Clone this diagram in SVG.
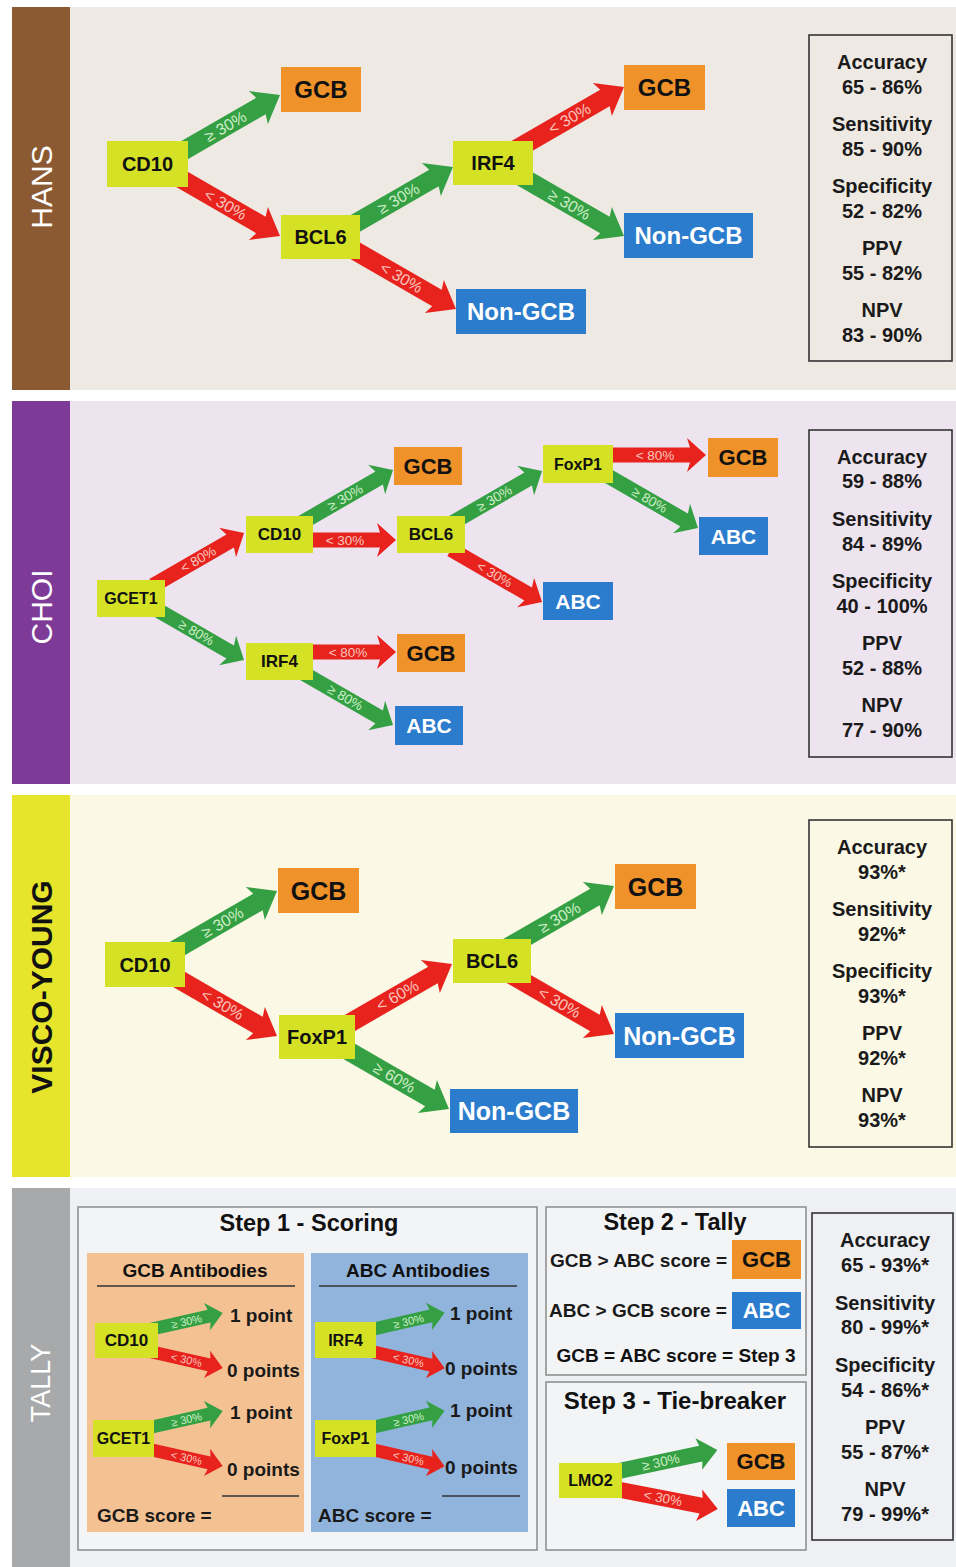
<svg xmlns="http://www.w3.org/2000/svg" width="956" height="1567" viewBox="0 0 956 1567">
<style>
text{font-family:"Liberation Sans",Arial,sans-serif;}
.n{fill:#d5e125;}
.o{fill:#f0922a;}
.b{fill:#2b7ccc;}
.t{font-weight:bold;fill:#111;text-anchor:middle;dominant-baseline:central;}
.tw{font-weight:bold;fill:#fff;text-anchor:middle;dominant-baseline:central;}
.side{font-size:30px;fill:#fff;text-anchor:middle;dominant-baseline:central;}
.st{font-size:20px;font-weight:bold;fill:#1a1a1a;text-anchor:middle;dominant-baseline:central;}
.sbox{fill:none;stroke:#333;stroke-width:1.6;}
.ag{fill:#34a043;}
.ar{fill:#e8231e;}
.lg{fill:#cfeec8;text-anchor:middle;dominant-baseline:central;}
.lr{fill:#f9c6bd;text-anchor:middle;dominant-baseline:central;}
.l1{font-size:16px;}
.l2{font-size:13.5px;}
.l3{font-size:11px;}
.tx{font-weight:bold;fill:#1a1a1a;dominant-baseline:central;}
.step{fill:#f3f4f6;stroke:#8a8a8a;stroke-width:1.5;}
.rule{stroke:#333;stroke-width:1.6;}
</style>
<defs>
<polygon id="aL" points="0,-9.5 103,-9.5 100,-19 125,0 100,19 103,9.5 0,9.5"/>
<polygon id="aM" points="0,-7.5 89,-7.5 86,-17 105,0 86,17 89,7.5 0,7.5"/>
<polygon id="aM112" points="0,-7.5 96,-7.5 93,-17 112,0 93,17 96,7.5 0,7.5"/>
<polygon id="aH96" points="0,-7.5 80,-7.5 77,-17 96,0 77,17 80,7.5 0,7.5"/>
<polygon id="aH106" points="0,-7.5 90,-7.5 87,-17 106,0 87,17 90,7.5 0,7.5"/>
<polygon id="aS" points="0,-6.5 81,-6.5 79,-14 95,0 79,14 81,6.5 0,6.5"/>
<polygon id="aLM" points="0,-8 103,-8 101,-16 120,0 101,16 103,8 0,8"/>
</defs>

<rect x="0" y="0" width="956" height="1567" fill="#ffffff"/>

<!-- panels -->
<g id="panel-hans">
<rect x="70" y="7" width="886" height="383" fill="#efe9e3"/>
<rect x="12" y="7" width="58" height="383" fill="#8b5a32"/>
<text class="side" transform="translate(41,187) rotate(-90)">HANS</text>
</g>
<g id="panel-choi">
<rect x="70" y="401" width="886" height="383" fill="#ede4ef"/>
<rect x="12" y="401" width="58" height="383" fill="#7d3a97"/>
<text class="side" transform="translate(41,607) rotate(-90)">CHOI</text>
</g>
<g id="panel-visco">
<rect x="70" y="795" width="886" height="382" fill="#fbf8e5"/>
<rect x="12" y="795" width="58" height="382" fill="#e6e52c"/>
<text class="side" style="fill:#111;font-weight:bold;font-size:30px" transform="translate(41,987) rotate(-90)">VISCO-YOUNG</text>
</g>
<g id="panel-tally">
<rect x="70" y="1188" width="886" height="379" fill="#eef0f3"/>
<rect x="12" y="1188" width="58" height="379" fill="#a7a9ab"/>
<text class="side" style="font-size:27px" transform="translate(41,1383) rotate(-90)">TALLY</text>
</g>

<!-- TALLY containers -->
<g id="tally-step1">
<rect x="78" y="1207" width="459" height="343" class="step"/>
<text x="309" y="1223" class="t" font-size="23.5">Step 1 - Scoring</text>
<rect x="87" y="1253" width="217" height="279" fill="#f4c292"/>
<rect x="311" y="1253" width="217" height="279" fill="#91b4dd"/>
<text x="195" y="1270" class="t" font-size="19">GCB Antibodies</text>
<line x1="97" y1="1286" x2="295" y2="1286" class="rule"/>
<text x="418" y="1270" class="t" font-size="19">ABC Antibodies</text>
<line x1="319" y1="1286" x2="517" y2="1286" class="rule"/>
<text x="230" y="1315" class="tx" font-size="19">1 point</text>
<text x="227" y="1370" class="tx" font-size="19">0 points</text>
<text x="230" y="1412" class="tx" font-size="19">1 point</text>
<text x="227" y="1469" class="tx" font-size="19">0 points</text>
<text x="450" y="1313" class="tx" font-size="19">1 point</text>
<text x="445" y="1368" class="tx" font-size="19">0 points</text>
<text x="450" y="1410" class="tx" font-size="19">1 point</text>
<text x="445" y="1467" class="tx" font-size="19">0 points</text>
<line x1="222" y1="1496" x2="299" y2="1496" class="rule"/>
<line x1="442" y1="1496" x2="520" y2="1496" class="rule"/>
<text x="97" y="1515" class="tx" font-size="19">GCB score =</text>
<text x="318" y="1515" class="tx" font-size="19">ABC score =</text>
</g>
<g id="tally-step2">
<rect x="546" y="1207" width="260" height="168" class="step"/>
<text x="675" y="1222" class="t" font-size="23.5">Step 2 - Tally</text>
<text x="550" y="1260" class="tx" font-size="19" textLength="177" lengthAdjust="spacingAndGlyphs">GCB &gt; ABC score =</text>
<text x="549" y="1310" class="tx" font-size="19" textLength="178" lengthAdjust="spacingAndGlyphs">ABC &gt; GCB score =</text>
<text x="676" y="1355" class="t" font-size="19">GCB = ABC score = Step 3</text>
</g>
<g id="tally-step3">
<rect x="546" y="1382" width="260" height="168" class="step"/>
<text x="675" y="1400" class="t" font-size="24">Step 3 - Tie-breaker</text>
</g>

<!-- connectors -->
<g id="connectors">
<!-- HANS -->
<g transform="translate(171.75,157.5) rotate(-30)"><use href="#aL" class="ag"/><text x="62" y="0" class="lg l1">≥ 30%</text></g>
<g transform="translate(171.75,173.5) rotate(30)"><use href="#aL" class="ar"/><text x="62" y="0" class="lr l1">&lt; 30%</text></g>
<g transform="translate(344.75,229.5) rotate(-30)"><use href="#aL" class="ag"/><text x="62" y="0" class="lg l1">≥ 30%</text></g>
<g transform="translate(347.75,246.5) rotate(30)"><use href="#aL" class="ar"/><text x="62" y="0" class="lr l1">&lt; 30%</text></g>
<g transform="translate(515.75,149.5) rotate(-30)"><use href="#aL" class="ar"/><text x="62" y="0" class="lr l1">&lt; 30%</text></g>
<g transform="translate(515.75,173.5) rotate(30)"><use href="#aL" class="ag"/><text x="62" y="0" class="lg l1">≥ 30%</text></g>
<!-- CHOI -->
<g transform="translate(153.1,585.5) rotate(-30)"><use href="#aM" class="ar"/><text x="52" y="0" class="lr l2">&lt; 80%</text></g>
<g transform="translate(153.1,607.5) rotate(30)"><use href="#aM" class="ag"/><text x="50" y="0" class="lg l2">≥ 80%</text></g>
<g transform="translate(302.1,522.5) rotate(-30)"><use href="#aM" class="ag"/><text x="50" y="0" class="lg l2">≥ 30%</text></g>
<g transform="translate(300,540)"><use href="#aH96" class="ar"/><text x="45" y="0" class="lr l2">&lt; 30%</text></g>
<g transform="translate(300,652)"><use href="#aH96" class="ar"/><text x="48" y="0" class="lr l2">&lt; 80%</text></g>
<g transform="translate(302.1,672.5) rotate(30)"><use href="#aM" class="ag"/><text x="50" y="0" class="lg l2">≥ 80%</text></g>
<g transform="translate(451.1,523.5) rotate(-30)"><use href="#aM" class="ag"/><text x="50" y="0" class="lg l2">≥ 30%</text></g>
<g transform="translate(451.1,549.5) rotate(30)"><use href="#aM" class="ar"/><text x="50" y="0" class="lr l2">&lt; 30%</text></g>
<g transform="translate(600,455)"><use href="#aH106" class="ar"/><text x="55" y="0" class="lr l2">&lt; 80%</text></g>
<g transform="translate(601,472) rotate(30)"><use href="#aM112" class="ag"/><text x="56" y="0" class="lg l2">≥ 80%</text></g>
<!-- VISCO -->
<g transform="translate(168.75,953.5) rotate(-30)"><use href="#aL" class="ag"/><text x="62" y="0" class="lg l1">≥ 30%</text></g>
<g transform="translate(168.75,973.5) rotate(30)"><use href="#aL" class="ar"/><text x="62" y="0" class="lr l1">&lt; 30%</text></g>
<g transform="translate(343.75,1026.5) rotate(-30)"><use href="#aL" class="ar"/><text x="62" y="0" class="lr l1">&lt; 60%</text></g>
<g transform="translate(340.75,1046.5) rotate(30)"><use href="#aL" class="ag"/><text x="62" y="0" class="lg l1">≥ 60%</text></g>
<g transform="translate(505.75,948.5) rotate(-30)"><use href="#aL" class="ag"/><text x="62" y="0" class="lg l1">≥ 30%</text></g>
<g transform="translate(505.75,971.5) rotate(30)"><use href="#aL" class="ar"/><text x="62" y="0" class="lr l1">&lt; 30%</text></g>
<!-- TALLY step 1 -->
<g transform="translate(130,1334) rotate(-12.7)"><use href="#aS" class="ag"/><text x="58" y="0" class="lg l3">≥ 30%</text></g>
<g transform="translate(130,1347) rotate(12.7)"><use href="#aS" class="ar"/><text x="58" y="0" class="lr l3">&lt; 30%</text></g>
<g transform="translate(130,1432) rotate(-12.7)"><use href="#aS" class="ag"/><text x="58" y="0" class="lg l3">≥ 30%</text></g>
<g transform="translate(130,1445) rotate(12.7)"><use href="#aS" class="ar"/><text x="58" y="0" class="lr l3">&lt; 30%</text></g>
<g transform="translate(352,1334) rotate(-12.9)"><use href="#aS" class="ag"/><text x="58" y="0" class="lg l3">≥ 30%</text></g>
<g transform="translate(352,1347) rotate(12.9)"><use href="#aS" class="ar"/><text x="58" y="0" class="lr l3">&lt; 30%</text></g>
<g transform="translate(352,1432) rotate(-12.9)"><use href="#aS" class="ag"/><text x="58" y="0" class="lg l3">≥ 30%</text></g>
<g transform="translate(352,1445) rotate(12.9)"><use href="#aS" class="ar"/><text x="58" y="0" class="lr l3">&lt; 30%</text></g>
<!-- TALLY step 3 -->
<g transform="translate(600,1475) rotate(-12)"><use href="#aLM" class="ag"/><text x="62" y="0" class="lg l2">≥ 30%</text></g>
<g transform="translate(600,1486) rotate(11)"><use href="#aLM" class="ar"/><text x="64" y="0" class="lr l2">&lt; 30%</text></g>
</g>

<!-- HANS nodes -->
<g id="hans-cd10"><rect x="107" y="141" width="81" height="46" class="n"/><text x="147.5" y="164" class="t" font-size="20">CD10</text></g>
<g id="hans-gcb1"><rect x="281" y="67" width="80" height="45" class="o"/><text x="321" y="89.5" class="t" font-size="24">GCB</text></g>
<g id="hans-bcl6"><rect x="281" y="215" width="79" height="44" class="n"/><text x="320.5" y="237" class="t" font-size="20">BCL6</text></g>
<g id="hans-irf4"><rect x="453" y="141" width="80" height="44" class="n"/><text x="493" y="163" class="t" font-size="20">IRF4</text></g>
<g id="hans-gcb2"><rect x="624" y="65" width="81" height="45" class="o"/><text x="664.5" y="87.5" class="t" font-size="24">GCB</text></g>
<g id="hans-nongcb1"><rect x="624" y="213" width="129" height="45" class="b"/><text x="688.5" y="235.5" class="tw" font-size="24">Non-GCB</text></g>
<g id="hans-nongcb2"><rect x="456" y="289" width="130" height="45" class="b"/><text x="521" y="311.5" class="tw" font-size="24">Non-GCB</text></g>
<g id="hans-stats"><rect x="809" y="35" width="143" height="326" class="sbox"/>
<text x="882" y="62" class="st">Accuracy</text><text x="882" y="87" class="st">65 - 86%</text>
<text x="882" y="124" class="st">Sensitivity</text><text x="882" y="149" class="st">85 - 90%</text>
<text x="882" y="186" class="st">Specificity</text><text x="882" y="211" class="st">52 - 82%</text>
<text x="882" y="248" class="st">PPV</text><text x="882" y="273" class="st">55 - 82%</text>
<text x="882" y="310" class="st">NPV</text><text x="882" y="335" class="st">83 - 90%</text></g>

<!-- CHOI nodes -->
<g id="choi-gcet1"><rect x="97" y="580" width="68" height="37" class="n"/><text x="131" y="598.5" class="t" font-size="16">GCET1</text></g>
<g id="choi-cd10"><rect x="246" y="516" width="67" height="37" class="n"/><text x="279.5" y="534.5" class="t" font-size="17">CD10</text></g>
<g id="choi-irf4"><rect x="246" y="643" width="67" height="37" class="n"/><text x="279.5" y="661.5" class="t" font-size="17">IRF4</text></g>
<g id="choi-gcb1"><rect x="394" y="447" width="68" height="38" class="o"/><text x="428" y="466" class="t" font-size="22">GCB</text></g>
<g id="choi-bcl6"><rect x="397" y="516" width="68" height="37" class="n"/><text x="431" y="534.5" class="t" font-size="17">BCL6</text></g>
<g id="choi-gcb2"><rect x="397" y="634" width="68" height="38" class="o"/><text x="431" y="653" class="t" font-size="22">GCB</text></g>
<g id="choi-abc1"><rect x="395" y="706" width="68" height="39" class="b"/><text x="429" y="725.5" class="tw" font-size="21">ABC</text></g>
<g id="choi-foxp1"><rect x="543" y="445" width="70" height="38" class="n"/><text x="578" y="464" class="t" font-size="16">FoxP1</text></g>
<g id="choi-gcb3"><rect x="708" y="438" width="70" height="39" class="o"/><text x="743" y="457.5" class="t" font-size="22">GCB</text></g>
<g id="choi-abc2"><rect x="699" y="517" width="69" height="38" class="b"/><text x="733.5" y="536" class="tw" font-size="21">ABC</text></g>
<g id="choi-abc3"><rect x="543" y="582" width="70" height="38" class="b"/><text x="578" y="601" class="tw" font-size="21">ABC</text></g>
<g id="choi-stats"><rect x="809" y="430" width="143" height="327" class="sbox"/>
<text x="882" y="457" class="st">Accuracy</text><text x="882" y="481" class="st">59 - 88%</text>
<text x="882" y="519" class="st">Sensitivity</text><text x="882" y="544" class="st">84 - 89%</text>
<text x="882" y="581" class="st">Specificity</text><text x="882" y="606" class="st">40 - 100%</text>
<text x="882" y="643" class="st">PPV</text><text x="882" y="668" class="st">52 - 88%</text>
<text x="882" y="705" class="st">NPV</text><text x="882" y="730" class="st">77 - 90%</text></g>

<!-- VISCO nodes -->
<g id="visco-cd10"><rect x="105" y="942" width="80" height="45" class="n"/><text x="145" y="964.5" class="t" font-size="20">CD10</text></g>
<g id="visco-gcb1"><rect x="278" y="868" width="81" height="45" class="o"/><text x="318.5" y="890.5" class="t" font-size="25">GCB</text></g>
<g id="visco-foxp1"><rect x="279" y="1015" width="76" height="44" class="n"/><text x="317" y="1037" class="t" font-size="20">FoxP1</text></g>
<g id="visco-bcl6"><rect x="453" y="939" width="78" height="44" class="n"/><text x="492" y="961" class="t" font-size="20">BCL6</text></g>
<g id="visco-gcb2"><rect x="615" y="864" width="81" height="45" class="o"/><text x="655.5" y="886.5" class="t" font-size="25">GCB</text></g>
<g id="visco-nongcb1"><rect x="615" y="1013" width="129" height="45" class="b"/><text x="679.5" y="1035.5" class="tw" font-size="25">Non-GCB</text></g>
<g id="visco-nongcb2"><rect x="450" y="1089" width="128" height="44" class="b"/><text x="514" y="1111" class="tw" font-size="25">Non-GCB</text></g>
<g id="visco-stats"><rect x="809" y="820" width="143" height="327" class="sbox"/>
<text x="882" y="847" class="st">Accuracy</text><text x="882" y="872" class="st">93%*</text>
<text x="882" y="909" class="st">Sensitivity</text><text x="882" y="934" class="st">92%*</text>
<text x="882" y="971" class="st">Specificity</text><text x="882" y="996" class="st">93%*</text>
<text x="882" y="1033" class="st">PPV</text><text x="882" y="1058" class="st">92%*</text>
<text x="882" y="1095" class="st">NPV</text><text x="882" y="1120" class="st">93%*</text></g>

<!-- TALLY nodes -->
<g id="tally-cd10"><rect x="95" y="1323" width="63" height="35" class="n"/><text x="126.5" y="1340.5" class="t" font-size="17">CD10</text></g>
<g id="tally-gcet1"><rect x="93" y="1420" width="61" height="37" class="n"/><text x="123.5" y="1438.5" class="t" font-size="16">GCET1</text></g>
<g id="tally-irf4"><rect x="315" y="1322" width="61" height="36" class="n"/><text x="345.5" y="1340" class="t" font-size="16">IRF4</text></g>
<g id="tally-foxp1"><rect x="315" y="1420" width="61" height="37" class="n"/><text x="345.5" y="1438.5" class="t" font-size="16">FoxP1</text></g>
<g id="tally-gcb1"><rect x="732" y="1240" width="69" height="39" class="o"/><text x="766.5" y="1259.5" class="t" font-size="22">GCB</text></g>
<g id="tally-abc1"><rect x="732" y="1292" width="69" height="37" class="b"/><text x="766.5" y="1310.5" class="tw" font-size="22">ABC</text></g>
<g id="tally-lmo2"><rect x="559" y="1463" width="63" height="35" class="n"/><text x="590.5" y="1480.5" class="t" font-size="16">LMO2</text></g>
<g id="tally-gcb2"><rect x="727" y="1443" width="68" height="37" class="o"/><text x="761" y="1461.5" class="t" font-size="22">GCB</text></g>
<g id="tally-abc2"><rect x="727" y="1489" width="68" height="38" class="b"/><text x="761" y="1508" class="tw" font-size="22">ABC</text></g>

<g id="tally-stats"><rect x="812" y="1213" width="141" height="327" class="sbox"/>
<text x="885" y="1240" class="st">Accuracy</text><text x="885" y="1265" class="st">65 - 93%*</text>
<text x="885" y="1303" class="st">Sensitivity</text><text x="885" y="1327" class="st">80 - 99%*</text>
<text x="885" y="1365" class="st">Specificity</text><text x="885" y="1390" class="st">54 - 86%*</text>
<text x="885" y="1427" class="st">PPV</text><text x="885" y="1452" class="st">55 - 87%*</text>
<text x="885" y="1489" class="st">NPV</text><text x="885" y="1514" class="st">79 - 99%*</text></g>
</svg>
